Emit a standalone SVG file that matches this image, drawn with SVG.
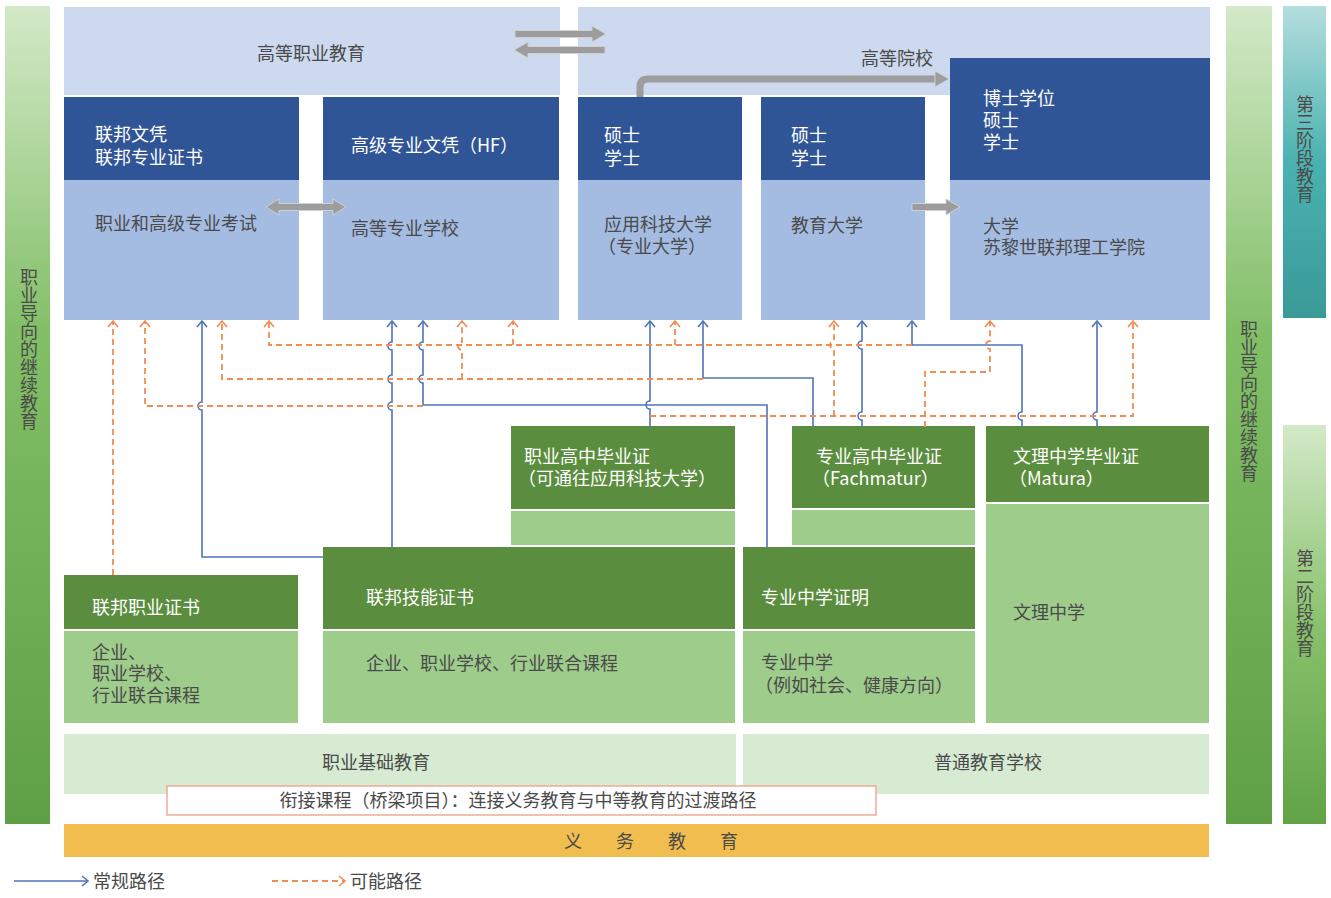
<svg xmlns="http://www.w3.org/2000/svg" width="1331" height="898" viewBox="0 0 1331 898">
<defs>
<linearGradient id="gSide" x1="0" y1="0" x2="0" y2="1"><stop offset="0" stop-color="#d3e9c8"/><stop offset="0.4" stop-color="#82bf67"/><stop offset="1" stop-color="#5f9f45"/></linearGradient>
<linearGradient id="gTeal" x1="0" y1="0" x2="0" y2="1"><stop offset="0" stop-color="#b5dede"/><stop offset="0.5" stop-color="#4ab2b0"/><stop offset="1" stop-color="#3a9a98"/></linearGradient>
<linearGradient id="gSec" x1="0" y1="0" x2="0" y2="1"><stop offset="0" stop-color="#d3e9c8"/><stop offset="0.5" stop-color="#88c26c"/><stop offset="1" stop-color="#62a346"/></linearGradient>
<marker id="mb" markerWidth="12" markerHeight="12" refX="9" refY="6" orient="auto" markerUnits="userSpaceOnUse"><path d="M3,1 L9,6 L3,11" fill="none" stroke="#4f74b9" stroke-width="1.6"/></marker>
<marker id="mo" markerWidth="12" markerHeight="12" refX="9" refY="6" orient="auto" markerUnits="userSpaceOnUse"><path d="M3,1 L9,6 L3,11" fill="none" stroke="#ef8d52" stroke-width="1.6"/></marker>
</defs>
<style>
text{font-family:"Noto Sans CJK SC","Noto Sans",sans-serif;font-size:18px;fill:#4a4a4a}
.w{fill:#ffffff}
.v{writing-mode:vertical-rl}
.panel{fill:#ccd9ee}
.db{fill:#2f5597}
.lb{fill:#a4bbe2}
.dg{fill:#5b8d3e}
.lg{fill:#9ecc8b}
.pg{fill:#d6ebd2}
.blue{fill:none;stroke:#4f74b9;stroke-width:1.6;marker-end:url(#mb)}
.or{fill:none;stroke:#ef8d52;stroke-width:1.8;stroke-dasharray:6 4;marker-end:url(#mo)}
.orn{fill:none;stroke:#ef8d52;stroke-width:1.8;stroke-dasharray:6 4}
.ga{fill:#9d9d9d;stroke:#d0d0d0;stroke-width:1}
</style>
<rect width="1331" height="898" fill="#ffffff"/>

<g id="side-left"><rect x="5" y="6" width="45" height="818" fill="url(#gSide)"/><text class="v" x="29" y="268">职业导向的继续教育</text></g>
<g id="side-right"><rect x="1226" y="6" width="46" height="818" fill="url(#gSide)"/><text class="v" x="1249" y="320">职业导向的继续教育</text></g>
<g id="tertiary"><rect x="1283" y="6" width="43" height="312" fill="url(#gTeal)"/><text class="v" x="1305" y="95">第三阶段教育</text></g>
<g id="secondary"><rect x="1283" y="425" width="43" height="399" fill="url(#gSec)"/><text class="v" x="1305" y="549">第二阶段教育</text></g>

<g id="hvb"><rect class="panel" x="64" y="7" width="496" height="88"/><text x="311" y="60" text-anchor="middle">高等职业教育</text></g>
<g id="hei"><path class="panel" d="M578,7 H1210 V58 H950 V95 H578 Z"/><text x="861" y="65">高等院校</text></g>

<g id="fed-diploma"><rect class="db" x="64" y="97" width="235" height="83"/><rect class="lb" x="64" y="180" width="235" height="140"/><text class="w" x="95" y="141">联邦文凭</text><text class="w" x="95" y="164">联邦专业证书</text><text x="95" y="230">职业和高级专业考试</text></g>
<g id="hf"><rect class="db" x="323" y="97" width="236" height="83"/><rect class="lb" x="323" y="180" width="236" height="140"/><text class="w" x="351" y="152">高级专业文凭（HF）</text><text x="351" y="235">高等专业学校</text></g>
<g id="uas"><rect class="db" x="578" y="97" width="164" height="83"/><rect class="lb" x="578" y="180" width="164" height="140"/><text class="w" x="604" y="142">硕士</text><text class="w" x="604" y="165">学士</text><text x="604" y="231">应用科技大学</text><text x="598" y="253">（专业大学）</text></g>
<g id="ute"><rect class="db" x="761" y="97" width="164" height="83"/><rect class="lb" x="761" y="180" width="164" height="140"/><text class="w" x="791" y="142">硕士</text><text class="w" x="791" y="165">学士</text><text x="791" y="232">教育大学</text></g>
<g id="uni"><rect class="db" x="950" y="58" width="260" height="122"/><rect class="lb" x="950" y="180" width="260" height="140"/><text class="w" x="983" y="105">博士学位</text><text class="w" x="983" y="127">硕士</text><text class="w" x="983" y="149">学士</text><text x="983" y="233">大学</text><text x="983" y="254">苏黎世联邦理工学院</text></g>

<g id="gray-arrows">
<polygon class="ga" points="515,30.5 592,30.5 592,26 606,34 592,42 592,37.5 515,37.5"/>
<polygon class="ga" points="605,46.5 528,46.5 528,42 514,50 528,58 528,53.5 605,53.5"/>
<path d="M640,97 V87 Q640,79 648,79 H936" fill="none" stroke="#9d9d9d" stroke-width="7"/>
<polygon class="ga" points="935,71 949,79 935,87"/>
<polygon class="ga" points="266,207 279,199 279,203.5 333,203.5 333,199 346,207 333,215 333,210.5 279,210.5 279,215"/>
<polygon class="ga" points="912,203.5 946,203.5 946,199 960,207 946,215 946,210.5 912,210.5"/>
</g>

<g id="voc-matura"><rect class="dg" x="511" y="426" width="224" height="83"/><rect class="lg" x="511" y="511" width="224" height="34"/><text class="w" x="524" y="463">职业高中毕业证</text><text class="w" x="518" y="485">（可通往应用科技大学）</text></g>
<g id="fachmatur"><rect class="dg" x="792" y="426" width="183" height="82"/><rect class="lg" x="792" y="510" width="183" height="35"/><text class="w" x="816" y="463">专业高中毕业证</text><text class="w" x="812" y="485">（Fachmatur）</text></g>
<g id="matura"><rect class="dg" x="986" y="426" width="223" height="76"/><rect class="lg" x="986" y="504" width="223" height="219"/><text class="w" x="1013" y="463">文理中学毕业证</text><text class="w" x="1009" y="485">（Matura）</text><text x="1013" y="619">文理中学</text></g>
<g id="eba"><rect class="dg" x="64" y="575" width="234" height="54"/><rect class="lg" x="64" y="631" width="234" height="92"/><text class="w" x="92" y="614">联邦职业证书</text><text x="92" y="659">企业、</text><text x="92" y="680">职业学校、</text><text x="92" y="702">行业联合课程</text></g>
<g id="efz"><rect class="dg" x="323" y="547" width="412" height="82"/><rect class="lg" x="323" y="631" width="412" height="92"/><text class="w" x="366" y="604">联邦技能证书</text><text x="366" y="670">企业、职业学校、行业联合课程</text></g>
<g id="fms"><rect class="dg" x="743" y="547" width="232" height="82"/><rect class="lg" x="743" y="631" width="232" height="92"/><text class="w" x="761" y="604">专业中学证明</text><text x="761" y="669">专业中学</text><text x="755" y="692">（例如社会、健康方向）</text></g>

<g id="basic-voc"><rect class="pg" x="64" y="734" width="672" height="60"/><text x="376" y="769" text-anchor="middle">职业基础教育</text></g>
<g id="general-school"><rect class="pg" x="743" y="734" width="466" height="60"/><text x="988" y="769" text-anchor="middle">普通教育学校</text></g>
<g id="bridge"><rect x="167" y="786" width="709" height="29" fill="#ffffff" stroke="#eeaa98" stroke-width="1.5"/><text x="518" y="807" text-anchor="middle">衔接课程（桥梁项目）：连接义务教育与中等教育的过渡路径</text></g>
<g id="compulsory"><rect x="64" y="824" width="1145" height="33" fill="#f2bd4f"/><text x="564" y="848" letter-spacing="15">义 务 教 育</text></g>

<g id="connectors">
<path class="blue" d="M323,557 H202 V410 A4,4 0 0 1 202,402 V321"/>
<path class="blue" d="M392,547 V410 A4,4 0 0 1 392,402 V383 A4,4 0 0 1 392,375 V350 A4,4 0 0 1 392,342 V321"/>
<path class="blue" d="M767,547 V405 H423 V383 A4,4 0 0 1 423,375 V350 A4,4 0 0 1 423,342 V321"/>
<path class="blue" d="M650,427 V409 A4,4 0 0 1 650,401 V321"/>
<path class="blue" d="M813,427 V378 H703 V321"/>
<path class="blue" d="M862,427 V420 A4,4 0 0 1 862,412 V349 A4,4 0 0 1 862,341 V321"/>
<path class="blue" d="M1022,427 V420 A4,4 0 0 1 1022,412 V345 H912 V321"/>
<path class="blue" d="M1097,427 V420 A4,4 0 0 1 1097,412 V321"/>
<path class="or" d="M113,575 V321"/>
<path class="or" d="M423,406 H145 V321"/>
<path class="or" d="M703,379 H222 V321"/>
<path class="or" d="M462,379 V350 A4,4 0 0 1 462,342 V321"/>
<path class="or" d="M912,345 H269 V321"/>
<path class="or" d="M513,345 V321"/>
<path class="or" d="M675,345 V321"/>
<path class="or" d="M650,416 H1133 V321"/>
<path class="or" d="M834,416 V349 A4,4 0 0 1 834,341 V321"/>
<path class="or" d="M925,427 V372 H990 V349 A4,4 0 0 1 990,341 V321"/>
</g>

<g id="legend">
<path class="blue" d="M14,881 H88"/><text x="93" y="888">常规路径</text>
<path class="or" d="M272,881 H345"/><text x="350" y="888">可能路径</text>
</g>
</svg>
